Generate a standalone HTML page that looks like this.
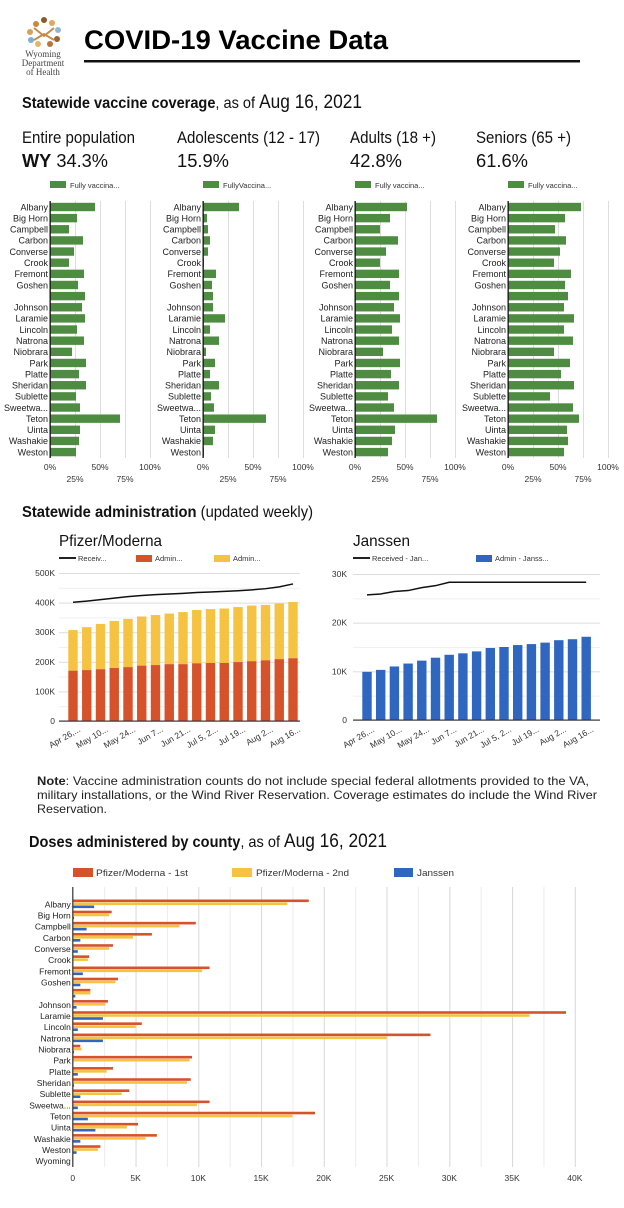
<!DOCTYPE html>
<html><head><meta charset="utf-8"><style>
html,body{margin:0;padding:0;background:#fff;}
svg{display:block;font-family:"Liberation Sans",sans-serif;}
.c{font-family:"Liberation Sans Narrow","Liberation Sans",sans-serif;}
</style></head><body>
<svg id="s" width="624" height="1208" viewBox="0 0 624 1208" xmlns="http://www.w3.org/2000/svg">
<g>
<circle cx="44" cy="20" r="3" fill="#8a5a2b"/><circle cx="36" cy="24" r="3" fill="#c98a3a"/><circle cx="52" cy="23" r="3" fill="#e0a85c"/>
<circle cx="30" cy="32" r="3" fill="#d9a05a"/><circle cx="58" cy="30" r="3" fill="#8fb8d8"/><circle cx="31" cy="40" r="3" fill="#7fb0d0"/>
<circle cx="57" cy="39" r="3" fill="#a0622d"/><circle cx="38" cy="44" r="3" fill="#e7b56a"/><circle cx="50" cy="44" r="3" fill="#b8743a"/>
<path d="M34 28 L44 36 L54 28 M34 40 L44 34 L54 40" stroke="#c58b4a" stroke-width="2" fill="none"/>
<text x="43" y="57" font-family="Liberation Serif,serif" font-size="9" text-anchor="middle" fill="#444">Wyoming</text>
<text x="43" y="66" font-family="Liberation Serif,serif" font-size="9" text-anchor="middle" fill="#444">Department</text>
<text x="43" y="75" font-family="Liberation Serif,serif" font-size="9" text-anchor="middle" fill="#444">of Health</text>
</g>
<text x="84" y="49" font-size="27" font-weight="bold" fill="#000" textLength="304" lengthAdjust="spacingAndGlyphs">COVID-19 Vaccine Data</text>
<rect x="84" y="60" width="496" height="2.5" fill="#111"/>
<text x="22" y="108" class="c" font-size="16" fill="#111" textLength="340" lengthAdjust="spacingAndGlyphs"><tspan font-weight="bold">Statewide vaccine coverage</tspan>, as of <tspan font-size="19">Aug 16, 2021</tspan></text>
<text x="22" y="143" font-size="17" fill="#111" textLength="113" lengthAdjust="spacingAndGlyphs">Entire population</text>
<text x="22" y="167" font-size="18" fill="#111" textLength="86" lengthAdjust="spacingAndGlyphs"><tspan font-weight="bold">WY</tspan> 34.3%</text>
<text x="177" y="143" font-size="17" fill="#111" textLength="143" lengthAdjust="spacingAndGlyphs">Adolescents (12 - 17)</text>
<text x="177" y="167" font-size="18" fill="#111" textLength="52" lengthAdjust="spacingAndGlyphs">15.9%</text>
<text x="350" y="143" font-size="17" fill="#111" textLength="86" lengthAdjust="spacingAndGlyphs">Adults (18 +)</text>
<text x="350" y="167" font-size="18" fill="#111" textLength="52" lengthAdjust="spacingAndGlyphs">42.8%</text>
<text x="476" y="143" font-size="17" fill="#111" textLength="95" lengthAdjust="spacingAndGlyphs">Seniors (65 +)</text>
<text x="476" y="167" font-size="18" fill="#111" textLength="52" lengthAdjust="spacingAndGlyphs">61.6%</text>
<g id="cov"></g>
<text x="22" y="517" class="c" font-size="16" fill="#111" textLength="291" lengthAdjust="spacingAndGlyphs"><tspan font-weight="bold">Statewide administration</tspan> (updated weekly)</text>
<g id="adm"></g>
<text x="37" y="785" font-size="12" fill="#222" textLength="552" lengthAdjust="spacingAndGlyphs"><tspan font-weight="bold">Note</tspan>: Vaccine administration counts do not include special federal allotments provided to the VA,</text>
<text x="37" y="799" font-size="12" fill="#222" textLength="560" lengthAdjust="spacingAndGlyphs">military installations, or the Wind River Reservation. Coverage estimates do include the Wind River</text>
<text x="37" y="813" font-size="12" fill="#222" textLength="70" lengthAdjust="spacingAndGlyphs">Reservation.</text>
<text x="29" y="847" class="c" font-size="16" fill="#111" textLength="358" lengthAdjust="spacingAndGlyphs"><tspan font-weight="bold">Doses administered by county</tspan>, as of <tspan font-size="19">Aug 16, 2021</tspan></text>
<g id="cty"></g>
</svg>
<script>
var NS="http://www.w3.org/2000/svg";
function el(p,t,a,txt){var e=document.createElementNS(NS,t);for(var k in a)e.setAttribute(k,a[k]);if(txt!==undefined)e.textContent=txt;p.appendChild(e);return e;}
var names=["Albany","Big Horn","Campbell","Carbon","Converse","Crook","Fremont","Goshen","","Johnson","Laramie","Lincoln","Natrona","Niobrara","Park","Platte","Sheridan","Sublette","Sweetwa...","Teton","Uinta","Washakie","Weston"];
var cov=[
[45,27,19,33,24,19,34,28,35,32,35,27,34,22,36,29,36,26,30,70,30,29,26],
[36,4,5,7,5,1,13,9,10,10,22,7,16,3,12,7,16,8,11,63,12,10,1],
[52,35,25,43,31,25,44,35,44,39,45,37,44,28,45,36,44,33,39,82,40,37,33],
[73,57,47,58,52,46,63,57,60,56,66,56,65,46,62,53,66,42,65,71,59,60,56]];
var x0s=[50,203,355,508],legs=["Fully vaccina...","FullyVaccina...","Fully vaccina...","Fully vaccina..."];
var g=document.getElementById("cov");
for(var c=0;c<4;c++){var x0=x0s[c];
 el(g,"rect",{x:x0,y:181,width:16,height:7,fill:"#4e8c42"});
 el(g,"text",{x:x0+20,y:188,"font-size":7.5,fill:"#333"},legs[c]);
 for(var t=1;t<=4;t++)el(g,"rect",{x:x0+t*25,y:201,width:1,height:257,fill:"#ddd"});
 for(var i=0;i<23;i++){var y=207+i*11.14;
  el(g,"rect",{x:x0,y:y-4.2,width:cov[c][i],height:8.4,fill:"#4e8c42"});
  el(g,"text",{x:x0-2,y:y+3.3,"font-size":9,"text-anchor":"end",fill:"#222"},names[i]);}
 el(g,"rect",{x:x0-0.5,y:201,width:1.3,height:257,fill:"#111"});
 var tl=["0%","25%","50%","75%","100%"];
 for(var t=0;t<5;t++)el(g,"text",{x:x0+t*25,y:(t%2?482:470),"font-size":8.5,"text-anchor":"middle",fill:"#333"},tl[t]);
}
var a=document.getElementById("adm");
var dates=["Apr 26,...","May 10...","May 24...","Jun 7...","Jun 21...","Jul 5, 2...","Jul 19...","Aug 2...","Aug 16..."];
el(a,"text",{x:59,y:546,"font-size":16,fill:"#111",textLength:103,lengthAdjust:"spacingAndGlyphs"},"Pfizer/Moderna");
el(a,"rect",{x:59,y:557,width:17,height:2,fill:"#222"});el(a,"text",{x:78,y:561,"font-size":7.5,fill:"#333"},"Receiv...");
el(a,"rect",{x:136,y:555,width:16,height:7,fill:"#d6522b"});el(a,"text",{x:155,y:561,"font-size":7.5,fill:"#333"},"Admin...");
el(a,"rect",{x:214,y:555,width:16,height:7,fill:"#f5c242"});el(a,"text",{x:233,y:561,"font-size":7.5,fill:"#333"},"Admin...");
var py0=721,pk=0.296;
for(var v=50;v<=500;v+=50){el(a,"rect",{x:59,y:py0-v*pk,width:241,height:1,fill:v%100?"#f0f0f0":"#ddd"});}
for(var v=0;v<=500;v+=100)el(a,"text",{x:55,y:py0-v*pk+3,"font-size":8.5,"text-anchor":"end",fill:"#333"},v?v+"K":"0");
var tot=[307,317,328,338,345,353,358,363,368,375,378,380,385,390,392,397,402];
var red=[170,172,175,179,182,187,189,192,192,195,196,196,199,202,205,209,212];
var rec=[401,405,410,415,420,424,427,429,431,434,436,438,440,443,447,453,463];
var pts=[];
for(var i=0;i<17;i++){var cx=73+i*13.75;
 el(a,"rect",{x:cx-4.7,y:py0-tot[i]*pk,width:9.4,height:(tot[i]-red[i])*pk,fill:"#f5c242"});
 el(a,"rect",{x:cx-4.7,y:py0-red[i]*pk,width:9.4,height:red[i]*pk,fill:"#d6522b"});
 pts.push(cx+","+(py0-rec[i]*pk));}
el(a,"polyline",{points:pts.join(" "),fill:"none",stroke:"#111","stroke-width":1.5});
el(a,"rect",{x:59,y:720.5,width:241,height:1.2,fill:"#333"});
for(var i=0;i<9;i++){var cx=73+i*27.5;el(a,"text",{x:cx+8,y:731,"font-size":8.5,"text-anchor":"end",fill:"#333",transform:"rotate(-30 "+(cx+8)+" 731)"},dates[i]);}
el(a,"text",{x:353,y:546,"font-size":16,fill:"#111",textLength:57,lengthAdjust:"spacingAndGlyphs"},"Janssen");
el(a,"rect",{x:353,y:557,width:17,height:2,fill:"#222"});el(a,"text",{x:372,y:561,"font-size":7.5,fill:"#333"},"Received - Jan...");
el(a,"rect",{x:476,y:555,width:16,height:7,fill:"#2f66bf"});el(a,"text",{x:495,y:561,"font-size":7.5,fill:"#333"},"Admin - Janss...");
var jy0=720,jk=146/30;
for(var v=5;v<=30;v+=5)el(a,"rect",{x:353,y:jy0-v*jk,width:247,height:1,fill:v%10?"#f0f0f0":"#ddd"});
for(var v=0;v<=30;v+=10)el(a,"text",{x:347,y:jy0-v*jk+3,"font-size":8.5,"text-anchor":"end",fill:"#333"},v?v+"K":"0");
var jb=[9.9,10.3,11,11.6,12.2,12.8,13.4,13.7,14.1,14.8,15,15.4,15.6,15.9,16.4,16.6,17.1];
var jr=[25.7,25.9,26.4,26.6,27.2,27.6,28.3,28.3,28.3,28.3,28.3,28.3,28.3,28.3,28.3,28.3,28.3];
pts=[];
for(var i=0;i<17;i++){var cx=367+i*13.7;
 el(a,"rect",{x:cx-4.7,y:jy0-jb[i]*jk,width:9.4,height:jb[i]*jk,fill:"#2f66bf"});
 pts.push(cx+","+(jy0-jr[i]*jk));}
el(a,"polyline",{points:pts.join(" "),fill:"none",stroke:"#111","stroke-width":1.5});
el(a,"rect",{x:353,y:719.5,width:247,height:1.2,fill:"#333"});
for(var i=0;i<9;i++){var cx=367+i*27.4;el(a,"text",{x:cx+8,y:731,"font-size":8.5,"text-anchor":"end",fill:"#333",transform:"rotate(-30 "+(cx+8)+" 731)"},dates[i]);}
var k=document.getElementById("cty");
el(k,"rect",{x:73,y:868,width:20,height:9,fill:"#d6522b"});el(k,"text",{x:96,y:876,"font-size":9.5,fill:"#333",textLength:92,lengthAdjust:"spacingAndGlyphs"},"Pfizer/Moderna - 1st");
el(k,"rect",{x:232,y:868,width:20,height:9,fill:"#f5c242"});el(k,"text",{x:256,y:876,"font-size":9.5,fill:"#333",textLength:93,lengthAdjust:"spacingAndGlyphs"},"Pfizer/Moderna - 2nd");
el(k,"rect",{x:394,y:868,width:19,height:9,fill:"#2f66bf"});el(k,"text",{x:417,y:876,"font-size":9.5,fill:"#333",textLength:37,lengthAdjust:"spacingAndGlyphs"},"Janssen");
var cn=names.concat(["Wyoming"]);
var r1=[18.8,3.1,9.8,6.3,3.2,1.3,10.9,3.6,1.4,2.8,39.3,5.5,28.5,0.6,9.5,3.2,9.4,4.5,10.9,19.3,5.2,6.7,2.2,0];
var r2=[17.1,2.9,8.5,4.8,2.9,1.2,10.3,3.4,1.4,2.6,36.4,5.0,25.0,0.7,9.3,2.7,9.1,3.9,9.9,17.5,4.3,5.8,2.0,0];
var r3=[1.7,0.1,1.1,0.6,0.4,0.05,0.8,0.6,0.2,0.3,2.4,0.4,2.4,0.1,0.05,0.4,0.1,0.6,0.4,1.2,1.8,0.6,0.3,0];
var kx=72.8,kk=12.55;
for(var t=1;t<=16;t++)el(k,"rect",{x:kx+t*2.5*kk,y:887,width:1,height:280,fill:t%2?"#ececec":"#d8d8d8"});
for(var i=0;i<24;i++){var y=904+i*11.17;
 el(k,"rect",{x:kx,y:y-4.5,width:r1[i]*kk,height:2.6,fill:"#d6522b"});
 el(k,"rect",{x:kx,y:y-1.5,width:r2[i]*kk,height:2.6,fill:"#f5c242"});
 el(k,"rect",{x:kx,y:y+1.5,width:r3[i]*kk,height:2.6,fill:"#2f66bf"});
 el(k,"text",{x:kx-2,y:y+3.3,"font-size":8.5,"text-anchor":"end",fill:"#222"},cn[i]);}
el(k,"rect",{x:kx-0.6,y:887,width:1.2,height:280,fill:"#333"});
for(var t=0;t<=8;t++)el(k,"text",{x:kx+t*5*kk,y:1181,"font-size":8.5,"text-anchor":"middle",fill:"#333"},t?(t*5)+"K":"0");
</script>
</body></html>
